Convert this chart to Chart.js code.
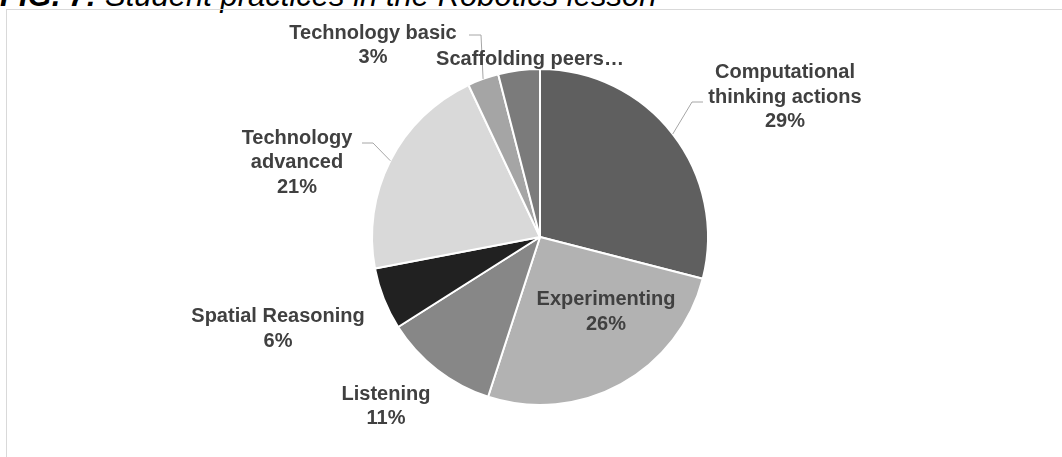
<!DOCTYPE html>
<html>
<head>
<meta charset="utf-8">
<script src="https://cdn.jsdelivr.net/npm/chart.js@4.4.0/dist/chart.umd.min.js"></script>
<style>
  html, body { margin: 0; padding: 0; background: #fff; overflow: hidden; }
  body { width: 1062px; height: 457px; position: relative; font-family: "Liberation Sans", Arial, sans-serif; }
  #title { position: absolute; left: 0; top: -20px; font-size: 31px; line-height: 31px; font-style: italic; color: #000; white-space: nowrap; }
  #title b { font-weight: bold; }
  #frame { position: absolute; left: 6px; top: 9px; width: 1100px; height: 500px; border-left: 1px solid #d9d9d9; border-top: 1px solid #d9d9d9; }
  #chart { position: absolute; left: 0; top: 0; }
</style>
</head>
<body>
<div id="title"><b>FIG. 7:</b> Student practices in the Robotics lesson</div>
<div id="frame"></div>
<canvas id="chart" width="1062" height="457"></canvas>
<script>
// --- DATA ---
const categories = ['Computational thinking actions', 'Experimenting', 'Listening', 'Spatial Reasoning', 'Technology advanced', 'Technology basic', 'Scaffolding peers'];
const shares = [29, 26, 11, 6, 21, 3, 4];
// how each label is broken into lines (Excel wraps / truncates them)
const labelLines = [['Computational', 'thinking actions'], ['Experimenting'], ['Listening'], ['Spatial Reasoning'], ['Technology', 'advanced'], ['Technology basic'], ['Scaffolding peers…']];
const showPercent = [true, true, true, true, true, true, false];

// --- STYLE / LAYOUT ---
const sliceColors = ['#5f5f5f', '#b2b2b2', '#878787', '#212121', '#d9d9d9', '#a5a5a5', '#7b7b7b'];
// label block centre, relative to the pie centre
const labelOffsets = [[245, -141.5], [66, 73.5], [-154, 168], [-262, 90.5], [-243, -76], [-167, -193], [-10, -179]];
// leader line bends (after the point on the rim), relative to the pie centre
const leaderBends = [
    [[152, -135], [163, -135]],
    null, null, null,
    [[-167, -94], [-178, -94]],
    [[-59, -202], [-71, -202]],
    null
];

const LABEL_FONT = 'bold 20px "Liberation Sans", Arial, sans-serif';
const LINE_GAP = 24.5;

const pieLabels = {
    id: 'pieLabels',
    afterDatasetsDraw(chart) {
        const ctx = chart.ctx;
        const meta = chart.getDatasetMeta(0);
        ctx.save();
        meta.data.forEach((arc, i) => {
            const { x, y, outerRadius, startAngle, endAngle } = arc.getProps(['x', 'y', 'outerRadius', 'startAngle', 'endAngle'], true);
            const mid = (startAngle + endAngle) / 2;

            const bends = leaderBends[i];
            if (bends) {
                ctx.beginPath();
                ctx.moveTo(x + Math.cos(mid) * outerRadius, y + Math.sin(mid) * outerRadius);
                bends.forEach(p => ctx.lineTo(x + p[0], y + p[1]));
                ctx.strokeStyle = '#a6a6a6';
                ctx.lineWidth = 1;
                ctx.stroke();
            }

            const lines = labelLines[i].slice();
            if (showPercent[i]) lines.push(shares[i] + '%');
            const cx = x + labelOffsets[i][0];
            const cy = y + labelOffsets[i][1];
            const top = cy - (lines.length - 1) * LINE_GAP / 2;
            ctx.font = LABEL_FONT;
            ctx.fillStyle = '#404040';
            ctx.textAlign = 'center';
            ctx.textBaseline = 'alphabetic';
            lines.forEach((t, k) => ctx.fillText(t, cx, top + k * LINE_GAP + 7.2));
        });
        ctx.restore();
    }
};

new Chart(document.getElementById('chart'), {
    type: 'pie',
    data: {
        labels: categories,
        datasets: [{
            data: shares,
            backgroundColor: sliceColors,
            borderColor: '#ffffff',
            borderWidth: 2,
            hoverOffset: 0
        }]
    },
    options: {
        responsive: false,
        animation: false,
        layout: { padding: { left: 371, right: 353, top: 68, bottom: 51 } },
        plugins: {
            legend: { display: false },
            tooltip: { enabled: false }
        }
    },
    plugins: [pieLabels]
});
</script>
</body>
</html>
